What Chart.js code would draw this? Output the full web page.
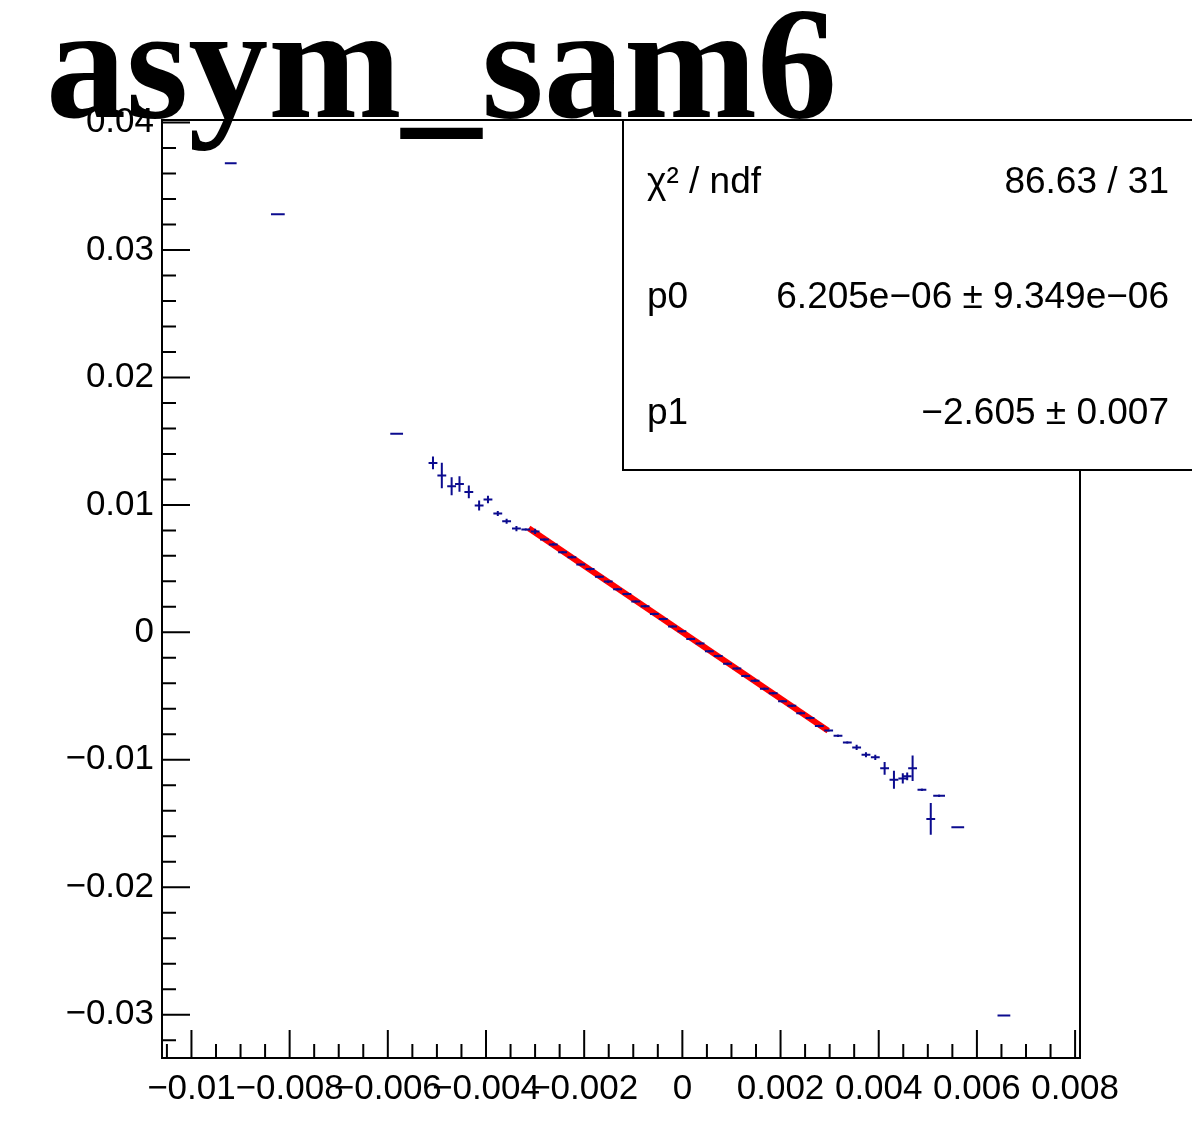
<!DOCTYPE html>
<html>
<head>
<meta charset="utf-8">
<script src="https://cdn.jsdelivr.net/npm/chart.js@4/dist/chart.umd.min.js"></script>
<style>
  html, body { margin: 0; padding: 0; background: #fff; }
  canvas { display: block; }
</style>
</head>
<body>
<canvas id="asymChart" width="1192" height="1128"></canvas>
<script>
// profile points: x centre, y mean, and their errors
const xVals = [
  -0.0092, -0.00824, -0.00582, -0.00508, -0.0049, -0.0047, -0.00454, -0.00435,
  -0.00414, -0.00396, -0.00376, -0.00358, -0.00338, -0.00319,
  -0.0030, -0.00281, -0.00263, -0.00244, -0.00225, -0.00207, -0.00188, -0.00169,
  -0.00151, -0.00132, -0.00113, -0.00095, -0.00076, -0.00057, -0.00039, -0.0002,
  -0.00001, 0.00017, 0.00036, 0.00055, 0.00073, 0.00092, 0.00111, 0.00129,
  0.00148, 0.00167, 0.00185, 0.00204, 0.00223, 0.00241, 0.0026, 0.00279, 0.00298,
  0.00317, 0.00336, 0.00355, 0.00374, 0.00393, 0.00412, 0.00431, 0.00449,
  0.00458, 0.00469, 0.00488, 0.00506, 0.00523, 0.00561, 0.00655
];
const yVals = [
  0.0368, 0.0328, 0.01558, 0.01329, 0.0123, 0.01146, 0.01164, 0.01102,
  0.00995, 0.01042, 0.00932, 0.00872, 0.00814, 0.00807,
  0.00792, 0.00728, 0.0069, 0.00628, 0.0059, 0.00532, 0.00496, 0.00436,
  0.00398, 0.00338, 0.003, 0.00242, 0.00204, 0.00144, 0.00104, 0.00046,
  0.00008, -0.00052, -0.00088, -0.00148, -0.00186, -0.00246, -0.00284, -0.00342,
  -0.00379, -0.00442, -0.00478, -0.0054, -0.00576, -0.00634, -0.00672, -0.00735, -0.0077,
  -0.00812, -0.00864, -0.00903, -0.00961, -0.00981, -0.01067, -0.01157, -0.01146,
  -0.0113, -0.01067, -0.01235, -0.01464, -0.01282, -0.0153, -0.03007
];
const xErrs = [
  0.00012, 0.00014, 0.00013, 0.00009, 0.00009, 0.00009, 0.00009, 0.00009,
  0.00009, 0.00009, 0.00009, 0.00009, 0.00009, 0.00009,
  0.00009, 0.00009, 0.00009, 0.00009, 0.00009, 0.00009, 0.00009, 0.00009,
  0.00009, 0.00009, 0.00009, 0.00009, 0.00009, 0.00009, 0.00009, 0.00009,
  0.00009, 0.00009, 0.00009, 0.00009, 0.00009, 0.00009, 0.00009, 0.00009,
  0.00009, 0.00009, 0.00009, 0.00009, 0.00009, 0.00009, 0.00009, 0.00009, 0.00009,
  0.00009, 0.00009, 0.00009, 0.00009, 0.00009, 0.00009, 0.00009, 0.00009,
  0.00009, 0.00009, 0.00009, 0.00009, 0.00012, 0.00013, 0.00013
];
const yErrs = [
  0, 0, 0, 0.0005, 0.001, 0.0007, 0.0006, 0.0005,
  0.0004, 0.0003, 0.0002, 0.0002, 0.0002, 0.0001,
  0.0002, 0.0001, 0.0001, 0.0001, 0.0001, 0.0001, 0.0001, 0.0001,
  0.0001, 0.0001, 0.0001, 0.0001, 0.0001, 0.0001, 0.0001, 0.0001,
  0.0001, 0.0001, 0.0001, 0.0001, 0.0001, 0.0001, 0.0001, 0.0001,
  0.0001, 0.0001, 0.0001, 0.0001, 0.0001, 0.0001, 0.0001, 0.0001, 0.0001,
  0.0001, 0.0001, 0.0002, 0.0002, 0.0002, 0.0005, 0.0007, 0.0004,
  0.0003, 0.001, 0.0001, 0.00125, 0.0001, 0, 0
];

// pol1 fit result, drawn over its fit range
const fitX = [-0.00313, 0.00297];
const fitY = [0.00816, -0.00773];

const statLabels = ["\u03C7\u00B2 / ndf", "p0", "p1"];
const statValues = ["86.63 / 31", "6.205e\u221206 \u00B1 9.349e\u221206", "\u22122.605 \u00B1 0.007"];

const titleText = "asym_sam6";
const pointColor = "#0b0b8f";
const axisFont = { family: "'Liberation Sans', Arimo, sans-serif", size: 35 };

const fmt = (v) => {
  if (Math.abs(v) < 1e-9) return "0";
  const s = parseFloat(Math.abs(v).toFixed(4)).toString();
  return (v < 0 ? "\u2212" : "") + s;
};

// error bars
const errorBars = {
  id: "errorBars",
  afterDatasetsDraw(chart) {
    const { ctx, scales } = chart;
    const xs = scales.x, ys = scales.y;
    ctx.save();
    ctx.strokeStyle = pointColor;
    ctx.lineWidth = 2;
    xVals.forEach((x, i) => {
      const px = xs.getPixelForValue(x);
      const py = ys.getPixelForValue(yVals[i]);
      ctx.beginPath();
      ctx.moveTo(xs.getPixelForValue(x - xErrs[i]), py);
      ctx.lineTo(xs.getPixelForValue(x + xErrs[i]), py);
      const ey = Math.max(yErrs[i], 0.00004);
      ctx.moveTo(px, ys.getPixelForValue(yVals[i] - ey));
      ctx.lineTo(px, ys.getPixelForValue(yVals[i] + ey));
      ctx.stroke();
    });
    ctx.restore();
  },
};

// ROOT style frame, inner ticks, stats box and title
const rootDecor = {
  id: "rootDecor",
  afterDraw(chart) {
    const { ctx, chartArea: a, scales } = chart;
    const xs = scales.x, ys = scales.y;
    ctx.save();
    ctx.strokeStyle = "#000";
    ctx.lineWidth = 2;
    ctx.strokeRect(a.left, a.top, a.right - a.left, a.bottom - a.top);

    ctx.beginPath();
    for (let k = -16; k <= 20; k++) {
      const v = k * 0.002;
      const py = ys.getPixelForValue(v);
      if (py < a.top || py > a.bottom) continue;
      const len = k % 5 === 0 ? 28 : 14;
      ctx.moveTo(a.left, py);
      ctx.lineTo(a.left + len, py);
    }
    for (let k = -21; k <= 16; k++) {
      const v = k * 0.0005;
      const px = xs.getPixelForValue(v);
      if (px < a.left || px > a.right) continue;
      const len = k % 4 === 0 ? 28 : 14;
      ctx.moveTo(px, a.bottom);
      ctx.lineTo(px, a.bottom - len);
    }
    ctx.stroke();

    // stats box
    ctx.fillStyle = "#fff";
    ctx.fillRect(623, a.top, 600, 350);
    ctx.strokeRect(623, a.top, 600, 350);
    ctx.fillStyle = "#000";
    ctx.font = "37px 'Liberation Sans', Arimo, sans-serif";
    ctx.textBaseline = "alphabetic";
    const rows = [193, 308, 424];
    statLabels.forEach((lab, i) => {
      ctx.textAlign = "left";
      ctx.fillText(lab, 647, rows[i]);
      ctx.textAlign = "right";
      ctx.fillText(statValues[i], 1169, rows[i]);
    });

    // title
    ctx.textAlign = "left";
    ctx.font = "bold 160px 'Liberation Serif', 'Times New Roman', serif";
    ctx.fillText(titleText, 46, 117);
    ctx.restore();
  },
};

new Chart(document.getElementById("asymChart"), {
  type: "scatter",
  data: {
    datasets: [
      {
        label: "asym",
        data: xVals.map((x, i) => ({ x, y: yVals[i] })),
        pointRadius: 0,
        showLine: false,
      },
      {
        label: "fit",
        type: "line",
        data: fitX.map((x, i) => ({ x, y: fitY[i] })),
        borderColor: "#ff0000",
        borderWidth: 6,
        pointRadius: 0,
        fill: false,
      },
    ],
  },
  options: {
    responsive: false,
    animation: false,
    devicePixelRatio: 1,
    layout: { padding: { top: 120, right: 112, left: 0, bottom: 0 } },
    plugins: { legend: { display: false }, tooltip: { enabled: false } },
    scales: {
      x: {
        type: "linear",
        min: -0.0106,
        max: 0.0081,
        grid: { display: false, drawTicks: false },
        border: { display: false },
        afterFit: (s) => { s.height = 70; },
        ticks: {
          stepSize: 0.002,
          includeBounds: false,
          autoSkip: false,
          maxRotation: 0,
          padding: 10,
          color: "#000",
          font: axisFont,
          callback: fmt,
        },
      },
      y: {
        type: "linear",
        min: -0.0334,
        max: 0.0402,
        grid: { display: false, drawTicks: false },
        border: { display: false },
        afterFit: (s) => { s.width = 162; },
        ticks: {
          stepSize: 0.01,
          includeBounds: false,
          autoSkip: false,
          padding: 8,
          color: "#000",
          font: axisFont,
          callback: fmt,
        },
      },
    },
  },
  plugins: [errorBars, rootDecor],
});
</script>
</body>
</html>
